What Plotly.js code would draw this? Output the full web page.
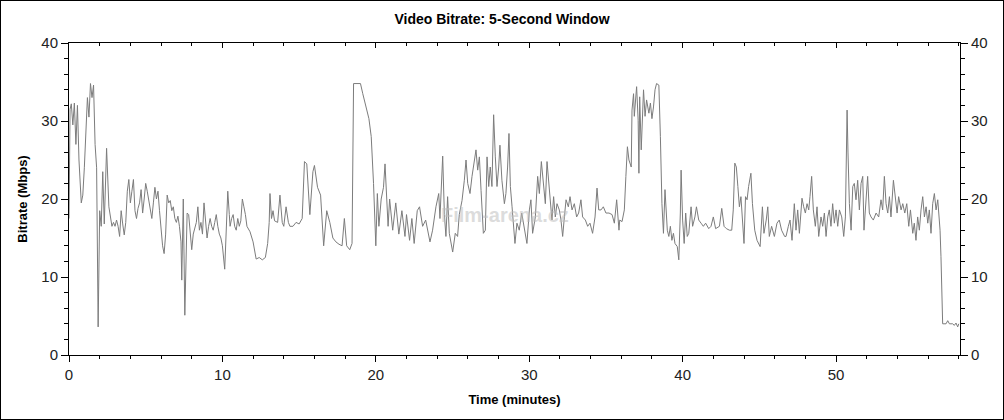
<!DOCTYPE html>
<html>
<head>
<meta charset="utf-8">
<script src="https://cdn.plot.ly/plotly-3.0.1.min.js"></script>
<style>
html,body{margin:0;padding:0;background:#fff;}
#wrap{position:relative;width:1004px;height:420px;}
#chart{width:1004px;height:420px;}
#frame{position:absolute;left:0;top:0;width:1004px;height:420px;box-sizing:border-box;border:1px solid #000;pointer-events:none;}
</style>
</head>
<body>
<div id="wrap"><div id="chart"></div><div id="frame"></div></div>
<script>
const chartTitle = "Video Bitrate: 5-Second Window";
const xTitle = "Time (minutes)";
const yTitle = "Bitrate (Mbps)";
const watermark = "Film-arena.cz";

const timeMin = [
0.0,0.07,0.15,0.25,0.35,0.45,0.55,0.65,0.8,0.9,1.0,1.1,1.2,1.3,1.4,1.5,1.6,1.7,1.8,1.9,
2.0,2.1,2.2,2.3,2.45,2.6,2.7,2.8,2.9,3.0,3.1,3.2,3.3,3.4,3.5,3.6,3.7,3.8,3.9,4.0,
4.1,4.2,4.3,4.4,4.5,4.6,4.7,4.8,4.9,5.0,5.1,5.2,5.3,5.4,5.5,5.6,5.7,5.8,5.9,6.0,
6.1,6.2,6.3,6.4,6.5,6.6,6.7,6.8,6.9,7.0,7.1,7.2,7.3,7.35,7.45,7.55,7.65,7.7,7.8,7.9,
8.0,8.1,8.2,8.3,8.4,8.5,8.6,8.7,8.8,8.9,9.0,9.1,9.2,9.3,9.4,9.5,9.6,9.7,9.8,9.9,
10.0,10.15,10.25,10.35,10.45,10.5,10.6,10.7,10.8,10.9,11.0,11.1,11.2,11.3,11.4,11.5,
11.6,11.8,12.0,12.2,12.4,12.6,12.8,12.95,13.05,13.1,13.2,13.3,13.4,13.6,13.75,13.9,14.0,14.15,14.3,14.4,
14.6,14.8,15.0,15.2,15.35,15.5,15.7,15.9,16.0,16.2,16.4,16.6,16.8,17.0,17.2,17.4,17.6,17.8,17.95,18.1,
18.3,18.45,18.55,18.8,19.0,19.15,19.35,19.55,19.7,19.85,20.0,20.1,20.2,20.35,20.5,20.6,20.8,20.9,21.1,21.3,
21.5,21.7,21.9,22.0,22.2,22.35,22.5,22.7,22.85,23.05,23.25,
23.53,23.70,23.92,24.10,24.18,24.36,24.47,24.57,24.68,24.79,24.9,25.01,25.18,25.33,25.44,25.62,25.77,25.88,25.99,
26.14,26.27,26.42,26.53,26.64,26.75,26.86,27.01,27.14,27.25,27.36,27.46,27.57,27.68,27.79,27.9,28.01,28.09,28.22,28.38,
28.48,28.59,28.68,28.77,28.88,28.96,29.07,29.2,29.35,29.51,29.64,29.75,29.85,30.01,30.11,30.22,30.4,30.55,30.66,30.79,
30.92,31.05,31.16,31.27,31.38,31.48,31.59,31.7,31.81,31.96,32.07,32.18,32.29,32.4,32.55,32.66,32.79,32.94,33.09,33.22,
33.37,33.48,33.66,33.81,33.96,34.13,34.29,34.42,34.53,34.68,34.83,35.0,
35.2,35.4,35.55,35.7,35.85,35.9,36.05,36.2,36.3,36.4,36.5,36.65,36.7,36.8,36.85,37.0,37.1,37.15,37.2,37.3,
37.45,37.55,37.65,37.8,37.9,38.0,38.1,38.2,38.3,38.45,38.55,38.65,38.75,38.85,39.0,39.1,39.2,39.3,39.4,39.5,
39.65,39.75,39.85,39.9,40.0,40.1,40.2,40.3,40.4,40.55,40.65,40.8,40.9,41.05,41.2,41.35,41.5,41.7,41.85,42.0,
42.15,42.4,42.55,42.7,42.85,43.05,43.2,43.3,43.4,43.5,43.6,43.7,43.8,44.0,44.1,44.2,44.3,44.45,44.55,44.7,
44.85,45.05,45.2,45.3,45.45,45.55,45.65,45.8,45.98,46.15,46.3,46.45,46.65,46.74,
46.89,47.0,47.13,47.28,47.39,47.5,47.61,47.78,47.89,48.0,48.11,48.22,48.3,48.41,48.52,48.65,48.76,48.87,49.02,49.13,
49.24,49.35,49.46,49.56,49.67,49.78,49.89,50.0,50.11,50.22,50.37,50.5,50.61,50.72,50.78,50.87,50.98,51.09,51.19,51.3,
51.41,51.52,51.63,51.74,51.82,51.95,52.06,52.17,52.28,52.43,52.61,52.78,52.93,53.04,53.15,53.26,53.37,53.48,53.58,53.74,
53.87,53.98,54.08,54.24,54.35,54.48,54.61,54.74,54.85,55.0,55.1,55.21,55.32,55.43,55.54,55.65,55.76,55.87,55.98,56.08,
56.19,56.3,56.41,56.52,56.63,56.69,56.78,56.84,56.91,56.95,57.17,57.28,57.39,57.6,57.71,57.82,57.93,58.0
];

const bitrateMbps = [
17.5,31.5,32.2,29.5,32.3,27,32,25,19.5,20.5,24,28.5,33,30.5,34.8,33,34.6,27,24,3.6,
18.5,16.5,23.5,16.8,26.5,19,17.5,16.5,17,16.5,17.3,16.5,15.2,18.5,16.8,15.4,17,21,22.5,19.5,
21,22.5,18.5,17.5,18.8,19.5,21.2,18.2,20,22,21,20,18.5,17.5,19.5,21.5,20,21,18.5,16,
14,13,15.5,20.5,19.5,19.8,18.5,19,17.5,17,17.8,16.5,14.5,9.6,20,5.1,17.7,18.2,18,16,
13.5,15.5,16.5,17,19,16,17,15.5,19.5,17.5,15,16.5,17.5,16.5,16,17,18,16.5,15.5,15,
14,11,15.5,21,18,16.5,17.5,18,16.5,16,17.5,16.5,17.2,20,19,18,
16.5,15.8,14.5,12.3,12.5,12.2,12.5,14.3,17,20.7,17.5,18.5,17.2,17,20.5,17,16.5,19,17,16.5,
16.5,17,16.8,17.5,24.8,24.5,18,23.5,24.3,21.5,20.5,14,18.5,17,15,14.5,14.2,14,17.5,14,
13.5,14.3,34.8,34.8,34.8,33.5,31.8,30.3,28,22,14,20.7,16.5,20,21.5,24.5,16.5,20,16,19.5,
15.5,18.5,15.2,18,14.7,17.5,14.3,18.5,19,16.5,17.3,
14.5,16,19,20.7,17.5,25.5,18,15.2,20.3,15.6,14.3,13.2,15.6,15.2,18,19.8,22.4,25,22,
20.7,22.9,24.6,26.3,23.7,25.4,21.1,15.6,16,25.4,21.6,24.1,21.6,30.8,25.4,21.6,24.1,26.9,22.4,19.4,
20.7,24.1,28.4,21.6,19,16.5,14.3,16.9,16,18.2,16.5,15.2,14.3,18.6,19.9,15.6,17.7,22.9,20.7,24.8,
22.4,19.4,24.8,22.4,19,17.3,20.3,17.7,19.4,18.6,17.3,15.2,17.7,19.9,19,20.3,18.6,19.4,17.7,18.2,
19.9,17.7,17.3,16.5,16.9,15.6,17.7,21.4,18.6,18.6,19,18.2,
18.2,18,16.9,19.9,16,17.3,17.1,18.6,22.9,26.7,25,24.1,31.4,33.5,30.6,34.4,30.1,23.3,33.1,26.3,
34,30.6,32.7,31,32.3,30.3,31.8,34,34.8,34.6,28,19.4,15.6,21.2,16,15.2,16.5,14.7,15.6,14.3,
13.9,12.2,18.2,23.7,17.3,14.3,18.2,15.2,15.6,19,16.5,17.7,19,17.3,16.9,16.5,16.9,16.2,16.5,17.7,
16.2,16.5,18.8,16.5,16.2,16,16,18.6,24.6,24.1,21.6,19,20.3,14.3,20.3,19.9,21.6,23.3,19.4,16,
14.7,13.9,19,15.6,17.3,19,15.2,16.5,15.2,16.9,17.3,16,15.2,15.2,
16.5,17.3,14.7,19.4,16,18.6,15.6,20.1,19,18.2,19.4,18.6,20.3,22.9,18.6,16.5,19,15.2,17.7,16.5,
18.2,15.2,17.7,18.6,16.5,19.4,16.9,18.6,16.5,18.6,17.7,15.2,17.7,31.4,25.9,19.4,16,21.6,22,19.9,
22.4,18.6,22,22.9,16,19.9,22.9,18.2,17.7,17.3,18.2,17.7,19.9,18.6,22.9,19.4,18.2,20.3,17.7,22.4,
20.3,18.2,20.3,18.6,19.4,18.2,19.4,16.5,18.6,15.6,16.9,14.7,17.7,16,18.6,20.3,17.7,19,16.9,18.6,
15.6,19.4,20.7,18.6,19.9,18.2,16,12.6,8.8,4.0,4.0,4.4,4.0,4.0,3.8,4.1,3.6,4.0
];

const xRange = [0, 58.08];
const yRange = [0, 40];

const tickFont = {family: "Liberation Sans, Arial, sans-serif", size: 15, color: "#222"};
const titleFont = {family: "Liberation Sans, Arial, sans-serif", size: 13, color: "#000", weight: "bold"};

const traces = [
  {x: timeMin, y: bitrateMbps, type: "scatter", mode: "lines",
   line: {color: "#7c7c7c", width: 1}, hoverinfo: "skip", showlegend: false},
  {x: timeMin, y: bitrateMbps, type: "scatter", mode: "lines", xaxis: "x2", yaxis: "y2",
   line: {color: "rgba(0,0,0,0)", width: 0}, hoverinfo: "skip", showlegend: false}
];

const layout = {
  width: 1004, height: 420,
  margin: {l: 69, r: 44, t: 43, b: 65},
  paper_bgcolor: "#fff", plot_bgcolor: "#fff",
  showlegend: false,
  title: {text: chartTitle, x: 0.5, xref: "container", y: 1 - 19/420, yref: "container", yanchor: "middle",
          font: {family: "Liberation Sans, Arial, sans-serif", size: 14, color: "#000", weight: "bold"}},
  xaxis: {range: xRange, dtick: 10, tick0: 0, showgrid: false, zeroline: false,
          showline: true, linecolor: "#000", linewidth: 1,
          ticks: "outside", ticklen: 6, tickcolor: "#000", tickwidth: 1,
          minor: {dtick: 2, ticks: "outside", ticklen: 3, tickcolor: "#000"},
          tickfont: tickFont,
          title: {text: xTitle, font: titleFont, standoff: 12}},
  xaxis2: {range: xRange, overlaying: "x", side: "top", dtick: 10, tick0: 0, showgrid: false, zeroline: false,
          showline: true, linecolor: "#000", linewidth: 1, showticklabels: false,
          ticks: "inside", ticklen: 5, tickcolor: "#000",
          minor: {dtick: 2, ticks: "inside", ticklen: 3, tickcolor: "#000"}},
  yaxis: {range: yRange, dtick: 10, tick0: 0, showgrid: false, zeroline: false,
          showline: true, linecolor: "#000", linewidth: 1,
          ticks: "outside", ticklen: 7, tickcolor: "#000",
          minor: {dtick: 2, ticks: "outside", ticklen: 4, tickcolor: "#000"},
          tickfont: tickFont,
          title: {text: yTitle, font: titleFont, standoff: 10}},
  yaxis2: {range: yRange, overlaying: "y", side: "right", dtick: 10, tick0: 0, showgrid: false, zeroline: false,
          showline: true, linecolor: "#000", linewidth: 1,
          ticks: "outside", ticklen: 7, tickcolor: "#000",
          minor: {dtick: 2, ticks: "outside", ticklen: 4, tickcolor: "#000"},
          tickfont: tickFont},
  annotations: [
    {text: watermark, x: 28.4, y: 18, xref: "x", yref: "y", showarrow: false,
     font: {family: "Liberation Sans, Arial, sans-serif", size: 20, color: "rgba(190,190,190,0.55)", weight: "bold"}}
  ]
};

Plotly.newPlot("chart", traces, layout, {staticPlot: true, displayModeBar: false});
</script>
</body>
</html>
